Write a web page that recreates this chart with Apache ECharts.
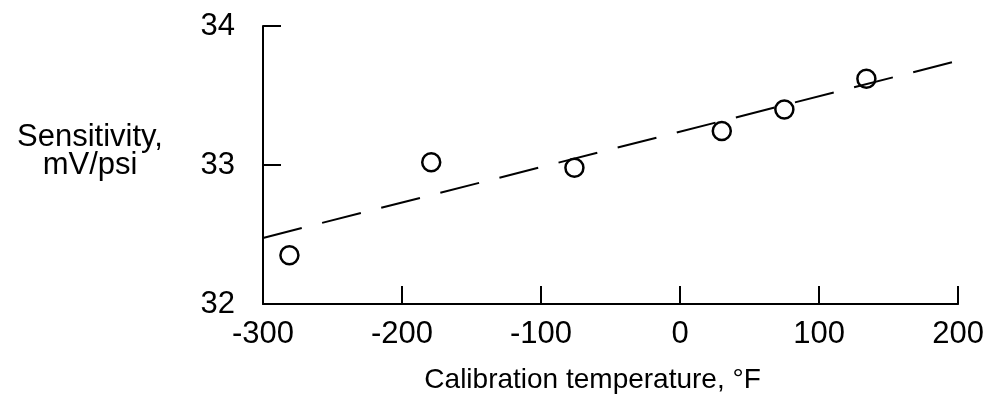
<!DOCTYPE html>
<html>
<head>
<meta charset="utf-8">
<script src="https://cdn.jsdelivr.net/npm/echarts@6/dist/echarts.min.js"></script>
<style>
html,body{margin:0;padding:0;background:#fff;overflow:hidden;}
#chart{width:987px;height:408px;}
</style>
</head>
<body>
<div id="chart"></div>
<script>
// Measured calibration points
var tempF = [-281, -179, -76, 30, 75, 134];
var sensitivity = [32.35, 33.02, 32.98, 33.245, 33.40, 33.62];
// Dashed fit line end points
var fitTemp = [-300, 200];
var fitSens = [32.475, 33.75];
// Axis ticks
var xTicks = [-300, -200, -100, 0, 100, 200];
var yTicks = [32, 33, 34];

var FONT = '"Liberation Sans", Arial, Helvetica, sans-serif';
var chart = echarts.init(document.getElementById('chart'));

var pts = tempF.map(function (t, i) { return [t, sensitivity[i]]; });
var fit = fitTemp.map(function (t, i) { return [t, fitSens[i]]; });

chart.setOption({
  animation: false,
  backgroundColor: '#ffffff',
  grid: { left: 263, width: 702, top: 26, height: 278, containLabel: false },
  xAxis: {
    type: 'value',
    min: xTicks[0],
    max: xTicks[xTicks.length - 1],
    interval: 100,
    name: 'Calibration temperature, °F',
    nameLocation: 'middle',
    nameGap: 62,
    nameTextStyle: { color: '#000', fontFamily: FONT, fontSize: 28, padding: [0, 36, 0, 0] },
    axisLine: { show: true, onZero: false, lineStyle: { color: '#000', width: 2 } },
    axisTick: { show: true, inside: true, length: 18, lineStyle: { color: '#000', width: 2 } },
    axisLabel: { color: '#000', fontFamily: FONT, fontSize: 31, margin: 15 },
    splitLine: { show: false }
  },
  yAxis: {
    type: 'value',
    min: yTicks[0],
    max: yTicks[yTicks.length - 1],
    interval: 1,
    axisLine: { show: true, onZero: false, lineStyle: { color: '#000', width: 2 } },
    axisTick: { show: true, inside: true, length: 18, lineStyle: { color: '#000', width: 2 } },
    axisLabel: { color: '#000', fontFamily: FONT, fontSize: 31, margin: 28 },
    splitLine: { show: false }
  },
  graphic: [{
    type: 'text',
    x: 90, y: 151,
    style: {
      text: 'Sensitivity,\nmV/psi',
      fill: '#000',
      font: '31px ' + FONT,
      lineHeight: 28,
      textAlign: 'center',
      textVerticalAlign: 'middle'
    }
  }],
  series: [
    {
      type: 'line',
      data: fit,
      symbol: 'none',
      lineStyle: { color: '#000', width: 2, type: [40, 21] },
      z: 2
    },
    {
      type: 'scatter',
      data: pts,
      symbol: 'circle',
      symbolSize: 18,
      itemStyle: { color: 'rgba(255,255,255,0)', borderColor: '#000', borderWidth: 2.5, opacity: 1 },
      z: 3
    }
  ]
});
</script>
</body>
</html>
